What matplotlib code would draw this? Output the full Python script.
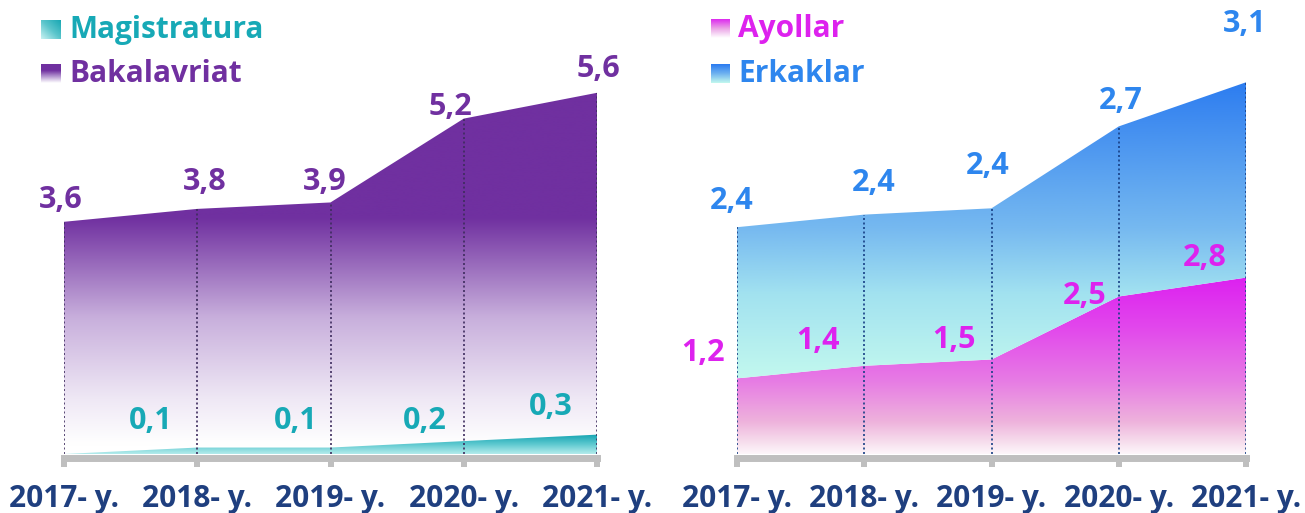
import numpy as np
import matplotlib
matplotlib.use("Agg")
import matplotlib.pyplot as plt
import matplotlib.transforms as mtransforms
from matplotlib.colors import LinearSegmentedColormap
from matplotlib.patches import Polygon

plt.rcParams['font.family'] = ['Open Sans', 'DejaVu Sans']
plt.rcParams['font.weight'] = 'bold'

# ma'lumotlar
years = ["2017- y.", "2018- y.", "2019- y.", "2020- y.", "2021- y."]
bakalavriat = [3.6, 3.8, 3.9, 5.2, 5.6]
magistratura = [0.0, 0.1, 0.1, 0.2, 0.3]
ayollar = [1.2, 1.4, 1.5, 2.5, 2.8]
erkaklar = [2.4, 2.4, 2.4, 2.7, 3.1]

# ranglar
PURPLE = "#7030A0"
TEAL = "#17A9B6"
MAGENTA = "#DD22EE"
BLUE = "#2E86EE"
NAVY = "#1F3F7F"
GREY = "#BFBFBF"

# yorliqlar siljishi (piksel): (dx, dy) nuqtadan
bak_off = [(-3, 25), (7, 30), (-6, 23), (-13, 15), (1, 27)]
mag_off = [(0, 0), (-47, 30), (-35, 30), (-39, 23), (-46, 31)]
ayo_off = [(-34, 28), (-46, 28), (-38, 22), (-34, 4), (-41, 23)]
erk_off = [(-5, 29), (9, 35), (-4, 45), (2, 28), (-1, 61)]

W, H = 1305, 513
fig = plt.figure(figsize=(W / 100, H / 100), dpi=100)


def px_box(x0, x1, y_base, y_top):
    return [x0 / W, (H - y_base) / H, (x1 - x0) / W, (y_base - y_top) / H]


def gradient_fill(ax, x, lower, upper, cmap, y0, y1):
    verts = list(zip(x, upper)) + list(zip(x[::-1], lower[::-1]))
    poly = Polygon(verts, closed=True, facecolor="none", edgecolor="none")
    ax.add_patch(poly)
    grad = np.linspace(0, 1, 256).reshape(-1, 1)
    im = ax.imshow(grad, extent=[x[0], x[-1], y0, y1], origin="lower",
                   aspect="auto", cmap=cmap, zorder=1, interpolation="bicubic")
    im.set_clip_path(poly)


def base_axis(ax):
    x = np.arange(len(years))
    bar_tr = mtransforms.offset_copy(ax.transData, fig=fig, x=0, y=-3.5, units="dots")
    ax.plot([x[0], x[-1]], [0, 0], color=GREY, lw=5.0, solid_capstyle="projecting",
            transform=bar_tr, clip_on=False, zorder=3)
    nub_tr = mtransforms.offset_copy(ax.transData, fig=fig, x=0, y=-9.5, units="dots")
    ax.plot(x, np.zeros(len(x)), "s", color=GREY, ms=4.4, mew=0,
            transform=nub_tr, clip_on=False, zorder=3)
    for i, lab in enumerate(years):
        ax.annotate(lab, (x[i], 0), xytext=(0, -53), textcoords="offset pixels",
                    ha="center", va="baseline", fontsize=21.5, color=NAVY,
                    annotation_clip=False)


def value_labels(ax, x, tops, vals, offs, color, skip_zero=False):
    for xi, t, v, (dx, dy) in zip(x, tops, vals, offs):
        if skip_zero and v == 0:
            continue
        ax.annotate(f"{v:.1f}".replace(".", ","), (xi, t), xytext=(dx, dy - 11),
                    textcoords="offset pixels", ha="center", va="baseline",
                    fontsize=22, color=color, zorder=6, annotation_clip=False)


x = np.arange(len(years))

# ---------- chap panel ----------
ax1 = fig.add_axes(px_box(64, 597, 454, 0))
ymax1 = 454 / 64.5
bak = np.array(bakalavriat)
mag = np.array(magistratura)

cm_bak = LinearSegmentedColormap.from_list(
    "bak", [(0, "#ffffff"), (0.02, "#ffffff"), (0.12, "#efe8f5"), (0.30, "#c8afdc"),
            (0.52, PURPLE), (1, PURPLE)])
gradient_fill(ax1, x, np.zeros(len(x)), bak, cm_bak, 0, ymax1)
cm_mag = LinearSegmentedColormap.from_list("mag", ["#b5ecec", "#5cc8cf", "#14a3b1"])
gradient_fill(ax1, x, np.zeros(len(x)), mag, cm_mag, 0, 0.3)

ax1.vlines(x, 0, bak, colors="#3E2C5E", linestyles=(0, (1.2, 1.5)), lw=1.2, zorder=4)
base_axis(ax1)
value_labels(ax1, x, bak, bakalavriat, bak_off, PURPLE)
value_labels(ax1, x, mag, magistratura, mag_off, TEAL, skip_zero=True)
ax1.set_xlim(0, len(x) - 1)
ax1.set_ylim(0, ymax1)
ax1.axis("off")

# ---------- o'ng panel ----------
ax2 = fig.add_axes(px_box(737, 1246, 454, 0))
ymax2 = 454 / 63
ayo = np.array(ayollar)
tot = ayo + np.array(erkaklar)

cm_ayo = LinearSegmentedColormap.from_list(
    "ayo", [(0, "#fdf6fa"), (0.07, "#f6dcec"), (0.18, "#eeb2dc"), (0.4, "#e77de4"),
            (0.7, "#e248ec"), (1, "#dc1ef0")])
gradient_fill(ax2, x, np.zeros(len(x)), ayo, cm_ayo, 0, 2.85)
cm_erk = LinearSegmentedColormap.from_list(
    "erk", [(0, "#c2f8ee"), (0.28, "#a2e2f0"), (0.5, "#76b9f0"), (1, "#2b7bf0")])
gradient_fill(ax2, x, ayo, tot, cm_erk, 1.2, 5.95)

ax2.vlines(x, 0, tot, colors="#173F85", linestyles=(0, (1.2, 1.5)), lw=1.2, zorder=4)
base_axis(ax2)
value_labels(ax2, x, ayo, ayollar, ayo_off, MAGENTA)
value_labels(ax2, x, tot, erkaklar, erk_off, BLUE)
ax2.set_xlim(0, len(x) - 1)
ax2.set_ylim(0, ymax2)
ax2.axis("off")

# ---------- legendalar ----------
def legend_square(x0, y0, size, colors, diagonal=False):
    lax = fig.add_axes([x0 / W, (H - y0 - size) / H, size / W, size / H])
    g = np.linspace(0, 1, 64)
    if diagonal:
        arr = (g[:, None] + g[None, :]) / 2
    else:
        arr = np.repeat(g[:, None], 64, axis=1)
    cm = LinearSegmentedColormap.from_list("sq", colors)
    lax.imshow(arr, origin="lower", cmap=cm, aspect="auto", extent=[0, 1, 0, 1])
    lax.axis("off")


legend_square(41, 20, 19, ["#c8f2f2", "#5cc6cc", "#18a7b3"], diagonal=True)
legend_square(41, 64, 19, ["#ffffff", "#b79ad2", PURPLE, PURPLE])
legend_square(711, 19, 19, ["#ffffff", "#eaa0e6", "#dc1ef0"])
legend_square(711, 64, 19, ["#c2f8ee", "#6eb2f0", "#2b7bf0"])

fig.text(69 / W, 1 - 38 / H, "Magistratura", color=TEAL, fontsize=21.5, va="baseline")
fig.text(69 / W, 1 - 82 / H, "Bakalavriat", color=PURPLE, fontsize=21.5, va="baseline")
fig.text(738 / W, 1 - 37 / H, "Ayollar", color=MAGENTA, fontsize=21.5, va="baseline")
fig.text(738 / W, 1 - 82 / H, "Erkaklar", color=BLUE, fontsize=21.5, va="baseline")

fig.savefig("out.png", dpi=100, facecolor="white")
